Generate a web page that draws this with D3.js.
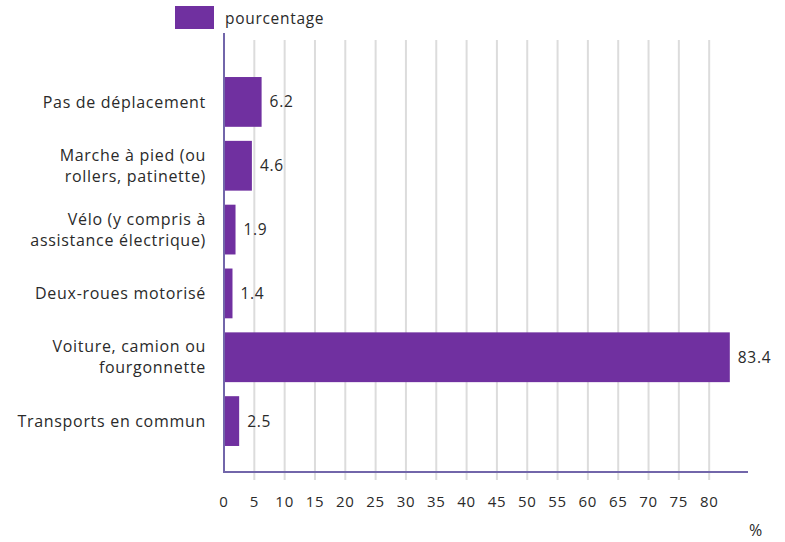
<!DOCTYPE html>
<html>
<head>
<meta charset="utf-8">
<script src="https://cdn.jsdelivr.net/npm/d3@7"></script>
<style>
  body { margin: 0; background: #fff; }
  text { font-family: "Open Sans", sans-serif; fill: #2a2a2a; letter-spacing: 0.7px; }
</style>
</head>
<body>
<svg id="chart" width="785" height="542"></svg>
<script>
// categories (each line of the label), values and ticks
const categories = [
    ["Pas de déplacement"],
    ["Marche à pied (ou", "rollers, patinette)"],
    ["Vélo (y compris à", "assistance électrique)"],
    ["Deux-roues motorisé"],
    ["Voiture, camion ou", "fourgonnette"],
    ["Transports en commun"]
];
const values = [6.2, 4.6, 1.9, 1.4, 83.4, 2.5];
const xTicks = [0, 5, 10, 15, 20, 25, 30, 35, 40, 45, 50, 55, 60, 65, 70, 75, 80];
const seriesName = "pourcentage";
const unit = "%";

const barColor = "#7030a0",
    axisColor = "#7266aa",
    gridColor = "#dcdcdc";

const svg = d3.select("#chart");

const x = d3.scaleLinear()
    .domain([0, 86.4])
    .range([224, 748]);

const y = d3.scaleBand()
    .domain(d3.range(categories.length))
    .range([70, 453])
    .paddingInner(0.22)
    .paddingOuter(0.11);

// vertical grid lines
svg.append("g")
    .selectAll("line")
    .data(xTicks.slice(1))
    .enter().append("line")
    .attr("x1", d => x(d))
    .attr("x2", d => x(d))
    .attr("y1", 40)
    .attr("y2", 480)
    .attr("stroke", gridColor)
    .attr("stroke-width", 2);

// bars
svg.append("g")
    .selectAll("rect")
    .data(values)
    .enter().append("rect")
    .attr("x", x(0))
    .attr("y", (d, i) => y(i))
    .attr("width", d => x(d) - x(0))
    .attr("height", y.bandwidth())
    .attr("fill", barColor);

// value labels
svg.append("g")
    .selectAll("text")
    .data(values)
    .enter().append("text")
    .attr("x", d => x(d) + 8)
    .attr("y", (d, i) => y(i) + y.bandwidth() / 2)
    .attr("dy", "0.35em")
    .attr("font-size", 15.5)
    .text(d => d);

// category labels
const catLabels = svg.append("g")
    .selectAll("text")
    .data(categories)
    .enter().append("text")
    .attr("text-anchor", "end")
    .attr("font-size", 16)
    .attr("y", (d, i) => y(i) + y.bandwidth() / 2);

catLabels.selectAll("tspan")
    .data(d => d.map((t, j) => ({t: t, j: j, n: d.length})))
    .enter().append("tspan")
    .attr("x", 206)
    .attr("dy", d => d.j === 0 ? (0.35 - (d.n - 1) * 0.66) + "em" : "1.32em")
    .text(d => d.t);

// axes
svg.append("line")
    .attr("x1", x(0)).attr("x2", x(0))
    .attr("y1", 33).attr("y2", 473)
    .attr("stroke", axisColor)
    .attr("stroke-width", 2);

svg.append("line")
    .attr("x1", x(0) - 1).attr("x2", 748)
    .attr("y1", 472).attr("y2", 472)
    .attr("stroke", axisColor)
    .attr("stroke-width", 2);

// x tick labels
svg.append("g")
    .selectAll("text")
    .data(xTicks)
    .enter().append("text")
    .attr("x", d => x(d))
    .attr("y", 502)
    .attr("dy", "0.35em")
    .attr("text-anchor", "middle")
    .attr("font-size", 15)
    .text(d => d);

svg.append("text")
    .attr("x", 756)
    .attr("y", 530)
    .attr("dy", "0.35em")
    .attr("text-anchor", "middle")
    .attr("font-size", 16)
    .text(unit);

// legend
const legend = svg.append("g");
legend.append("rect")
    .attr("x", 175)
    .attr("y", 6)
    .attr("width", 39)
    .attr("height", 23)
    .attr("fill", barColor);
legend.append("text")
    .attr("x", 225)
    .attr("y", 19)
    .attr("dy", "0.35em")
    .attr("font-size", 15.5)
    .text(seriesName);
</script>
</body>
</html>
